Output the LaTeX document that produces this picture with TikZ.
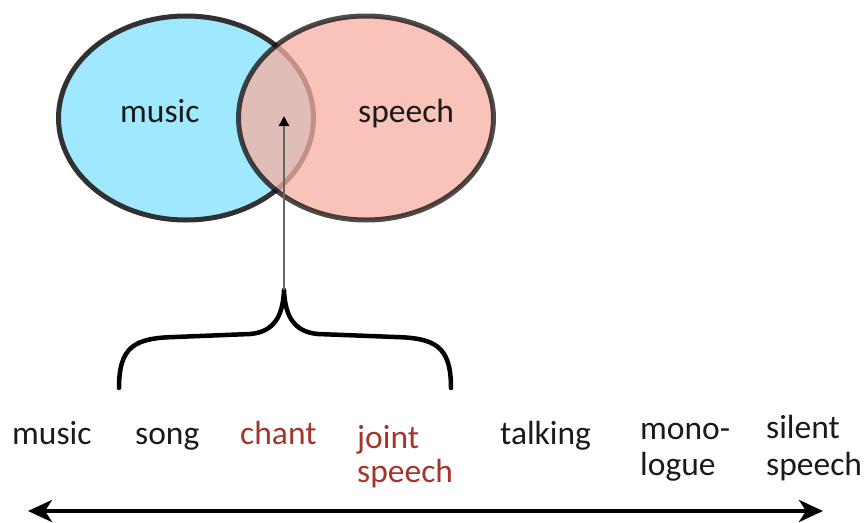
\documentclass[tikz,border=0pt]{standalone}
\usepackage{fontspec}
\setmainfont{Carlito}
\usetikzlibrary{arrows.meta,shapes.geometric}
\definecolor{musicblue}{RGB}{160,232,253}
\definecolor{speechpink}{RGB}{247,175,162}
\definecolor{inkdark}{RGB}{26,26,26}
\definecolor{chantred}{RGB}{165,52,43}
\tikzset{
  setcircle/.style={ellipse, inner sep=0pt, minimum width=255pt, minimum height=204pt, line width=5pt},
  lbl/.style={anchor=base west, inner sep=0pt, text=inkdark, font=\fontsize{33.5}{38}\selectfont},
  redlbl/.style={lbl, text=chantred},
  bracepath/.style={line width=4.5pt, line cap=round, line join=round},
  pointer/.style={draw=black!60, line width=2.6pt, -{Triangle[length=10pt,width=10pt,color=black]}},
  continuum/.style={line width=4pt, {Stealth[length=24pt,width=22pt,inset=7pt]}-{Stealth[length=24pt,width=22pt,inset=7pt]}}
}
\begin{document}
\begin{tikzpicture}[x=1pt,y=-1pt]
\useasboundingbox (0,0) rectangle (866,522);

% two overlapping sets
\node[setcircle, fill=musicblue, draw=inkdark!90] (musicset) at (186,118) {};
\node[setcircle, fill=speechpink, fill opacity=0.75, draw=black, draw opacity=0.7] (speechset) at (366,118) {};
\node[lbl] (musiclbl) at (120,122) {music};
\node[lbl] (speechlbl) at (358,122) {speech};

% brace gathering the overlap cases
\coordinate (braceleft) at (119,388);
\coordinate (bracetip) at (284,290);
\coordinate (braceright) at (451,388);
\coordinate (overlap) at (284,116);
\draw[bracepath] (braceleft) .. controls (119,346) and (135,338) .. (175,337) -- (250,334)
  .. controls (274,332) and (283,316) .. (bracetip)
  .. controls (285,316) and (294,332) .. (318,334) -- (395,337)
  .. controls (435,338) and (451,346) .. (braceright);
\draw[pointer] (bracetip) -- (overlap);

% the continuum of vocal activities
\node[lbl] (m) at (12,444) {music};
\node[lbl] (s) at (135,444) {song};
\node[redlbl] (c) at (240,444) {chant};
\node[redlbl] (j1) at (357,448) {joint};
\node[redlbl] (j2) at (357,482) {speech};
\node[lbl] (t) at (500,444) {talking};
\node[lbl] (mo1) at (640,439) {mono-};
\node[lbl] (mo2) at (640,475) {logue};
\node[lbl] (si1) at (766,438) {silent};
\node[lbl] (si2) at (766,475) {speech};

\coordinate (leftend) at (28,511);
\coordinate (rightend) at (823,511);
\draw[continuum] (leftend) -- (rightend);
\end{tikzpicture}
\end{document}
